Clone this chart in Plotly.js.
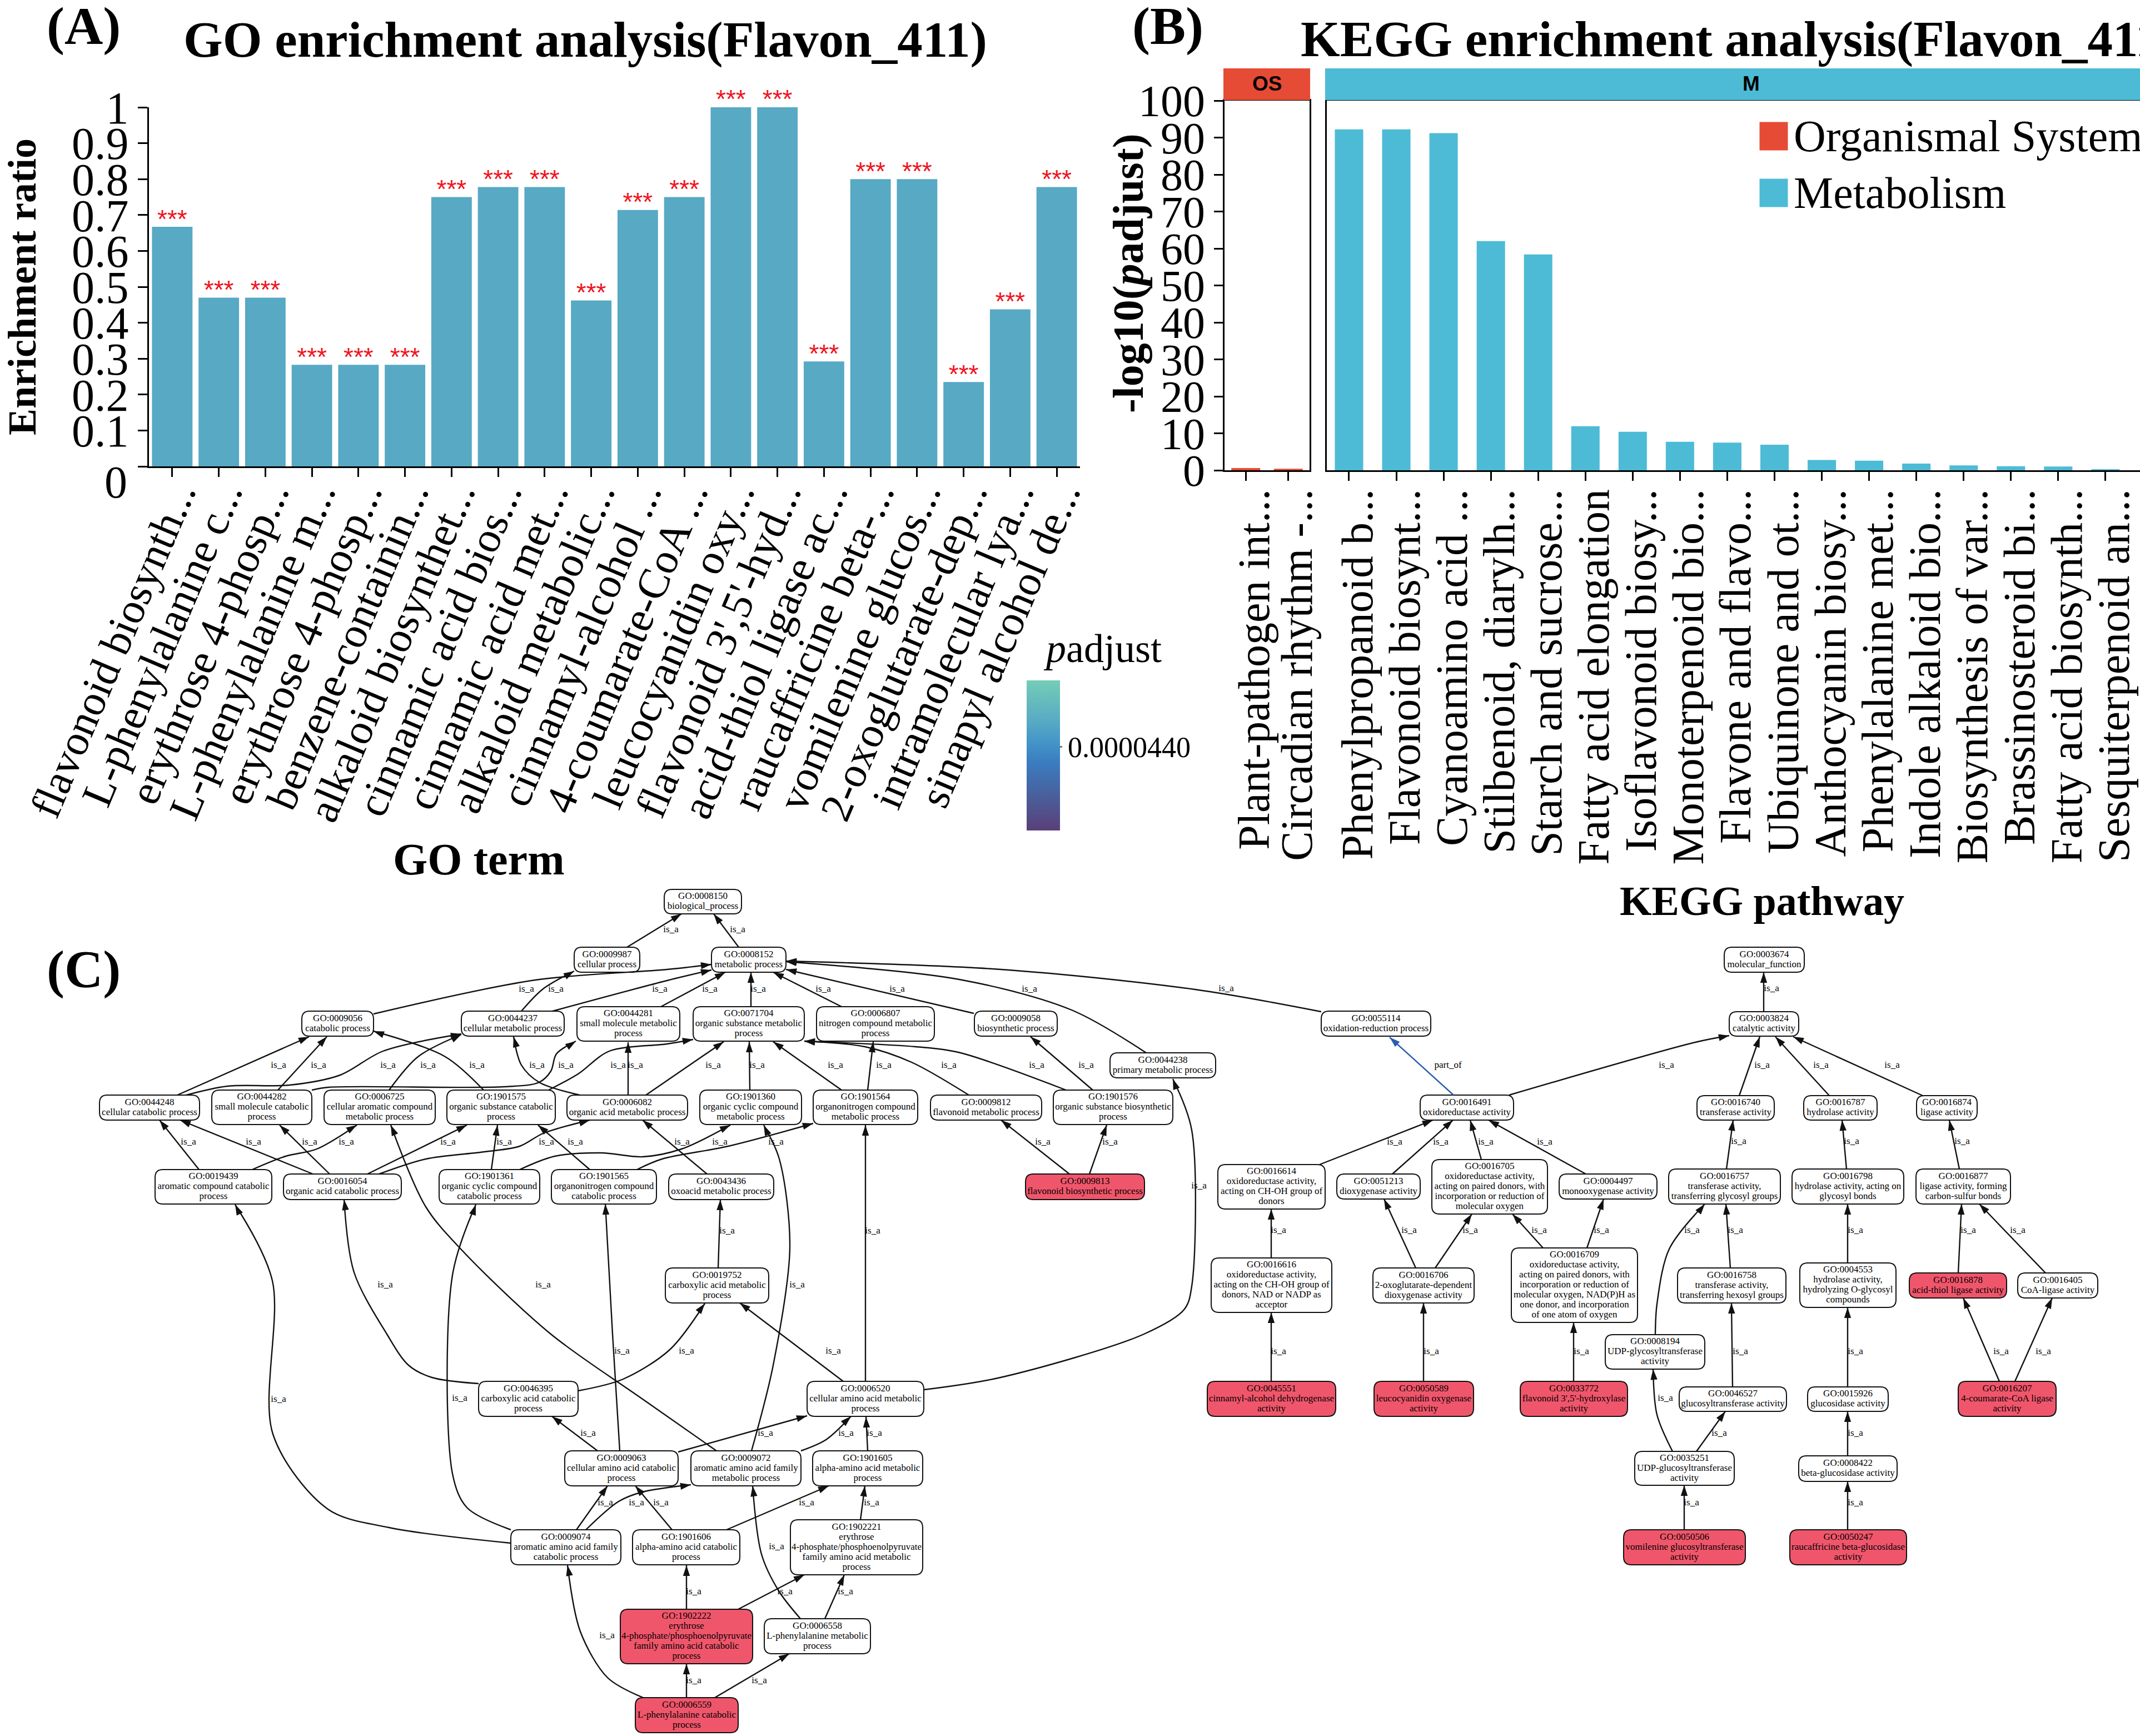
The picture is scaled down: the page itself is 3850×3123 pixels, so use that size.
<!DOCTYPE html>
<html>
<head>
<meta charset="utf-8">
<script src="https://cdn.plot.ly/plotly-3.0.1.min.js"></script>
<style>html,body{margin:0;padding:0;background:#fff}#chart{width:3850px;height:3123px}</style>
</head>
<body>
<div id="chart"></div>
<script>
// ---------- Panel A data ----------
const goTerms = ["flavonoid biosynth...","L-phenylalanine c...","erythrose 4-phosp...","L-phenylalanine m...","erythrose 4-phosp...","benzene-containin...","alkaloid biosynthet...","cinnamic acid bios...","cinnamic acid met...","alkaloid metabolic...","cinnamyl-alcohol ...","4-coumarate-CoA ...","leucocyanidin oxy...","flavonoid 3',5'-hyd...","acid-thiol ligase ac...","raucaffricine beta-...","vomilenine glucos...","2-oxoglutarate-dep...","intramolecular lya...","sinapyl alcohol de..."];
const goRatio = [0.667,0.47,0.47,0.283,0.283,0.283,0.75,0.778,0.778,0.462,0.714,0.75,1,1,0.292,0.8,0.8,0.235,0.4375,0.778];
const goPadjust = [5.7e-5,5.7e-5,5.7e-5,5.7e-5,5.7e-5,5.7e-5,5.7e-5,5.7e-5,5.7e-5,5.7e-5,5.7e-5,5.7e-5,5.7e-5,5.7e-5,5.7e-5,5.7e-5,5.7e-5,5.7e-5,5.7e-5,5.7e-5];
const goStars = ["***","***","***","***","***","***","***","***","***","***","***","***","***","***","***","***","***","***","***","***"];
const goYTicks = [0,0.1,0.2,0.3,0.4,0.5,0.6,0.7,0.8,0.9,1];
const goYTickText = ["","0.1","0.2","0.3","0.4","0.5","0.6","0.7","0.8","0.9","1"];

// ---------- Panel B data ----------
const osTerms = ["Plant-pathogen int...","Circadian rhythm -..."];
const osValues = [0.6,0.4];
const metTerms = ["Phenylpropanoid b...","Flavonoid biosynt...","Cyanoamino acid ...","Stilbenoid, diarylh...","Starch and sucrose...","Fatty acid elongation","Isoflavonoid biosy...","Monoterpenoid bio...","Flavone and flavo...","Ubiquinone and ot...","Anthocyanin biosy...","Phenylalanine met...","Indole alkaloid bio...","Biosynthesis of var...","Brassinosteroid bi...","Fatty acid biosynth...","Sesquiterpenoid an..."];
const metValues = [92.2,92.2,91.2,62,58.4,11.9,10.4,7.7,7.5,6.9,2.8,2.6,1.8,1.3,1.1,1.0,0.3];
const keggYTicks = [0,10,20,30,40,50,60,70,80,90,100];

// ---------- Panel C data: [id, text lines, left, right, top, bottom, highlighted] ----------
const graphNodes = [
["GO:0008150",["biological_process"],1195,1334,1600,1644,0],
["GO:0009987",["cellular process"],1033,1151,1704,1749,0],
["GO:0008152",["metabolic process"],1280,1414,1704,1749,0],
["GO:0009056",["catabolic process"],543,672,1819,1864,0],
["GO:0044237",["cellular metabolic process"],830,1015,1819,1864,0],
["GO:0044281",["small molecule metabolic","process"],1038,1223,1811,1873,0],
["GO:0071704",["organic substance metabolic","process"],1247,1447,1811,1873,0],
["GO:0006807",["nitrogen compound metabolic","process"],1469,1681,1811,1873,0],
["GO:0009058",["biosynthetic process"],1753,1902,1819,1864,0],
["GO:0044238",["primary metabolic process"],1997,2187,1894,1939,0],
["GO:0044248",["cellular catabolic process"],179,359,1970,2015,0],
["GO:0044282",["small molecule catabolic","process"],381,561,1961,2023,0],
["GO:0006725",["cellular aromatic compound","metabolic process"],583,783,1961,2023,0],
["GO:1901575",["organic substance catabolic","process"],804,999,1961,2023,0],
["GO:0006082",["organic acid metabolic process"],1020,1237,1970,2015,0],
["GO:1901360",["organic cyclic compound","metabolic process"],1259,1442,1961,2023,0],
["GO:1901564",["organonitrogen compound","metabolic process"],1463,1651,1961,2023,0],
["GO:0009812",["flavonoid metabolic process"],1674,1874,1970,2015,0],
["GO:1901576",["organic substance biosynthetic","process"],1895,2110,1961,2023,0],
["GO:0019439",["aromatic compound catabolic","process"],279,489,2104,2166,0],
["GO:0016054",["organic acid catabolic process"],510,722,2112,2158,0],
["GO:1901361",["organic cyclic compound","catabolic process"],790,971,2104,2166,0],
["GO:1901565",["organonitrogen compound","catabolic process"],992,1181,2104,2166,0],
["GO:0043436",["oxoacid metabolic process"],1203,1392,2112,2158,0],
["GO:0009813",["flavonoid biosynthetic process"],1845,2059,2112,2158,1],
["GO:0019752",["carboxylic acid metabolic","process"],1197,1383,2281,2344,0],
["GO:0046395",["carboxylic acid catabolic","process"],861,1040,2485,2548,0],
["GO:0006520",["cellular amino acid metabolic","process"],1452,1662,2485,2548,0],
["GO:0009063",["cellular amino acid catabolic","process"],1016,1220,2610,2673,0],
["GO:0009072",["aromatic amino acid family","metabolic process"],1243,1441,2610,2673,0],
["GO:1901605",["alpha-amino acid metabolic","process"],1462,1660,2610,2673,0],
["GO:0009074",["aromatic amino acid family","catabolic process"],919,1117,2752,2815,0],
["GO:1901606",["alpha-amino acid catabolic","process"],1138,1331,2752,2815,0],
["GO:1902221",["erythrose","4-phosphate/phosphoenolpyruvate","family amino acid metabolic","process"],1422,1660,2734,2833,0],
["GO:1902222",["erythrose","4-phosphate/phosphoenolpyruvate","family amino acid catabolic","process"],1116,1354,2895,2993,1],
["GO:0006558",["L-phenylalanine metabolic","process"],1375,1566,2912,2975,0],
["GO:0006559",["L-phenylalanine catabolic","process"],1143,1328,3054,3117,1],
["GO:0055114",["oxidation-reduction process"],2377,2574,1819,1864,0],
["GO:0016491",["oxidoreductase activity"],2555,2723,1970,2015,0],
["GO:0016614",["oxidoreductase activity,","acting on CH-OH group of","donors"],2191,2384,2095,2175,0],
["GO:0051213",["dioxygenase activity"],2405,2555,2112,2157,0],
["GO:0016705",["oxidoreductase activity,","acting on paired donors, with","incorporation or reduction of","molecular oxygen"],2576,2784,2086,2184,0],
["GO:0004497",["monooxygenase activity"],2805,2981,2112,2157,0],
["GO:0016616",["oxidoreductase activity,","acting on the CH-OH group of","donors, NAD or NADP as","acceptor"],2179,2396,2263,2361,0],
["GO:0016706",["2-oxoglutarate-dependent","dioxygenase activity"],2470,2652,2281,2344,0],
["GO:0016709",["oxidoreductase activity,","acting on paired donors, with","incorporation or reduction of","molecular oxygen, NAD(P)H as","one donor, and incorporation","of one atom of oxygen"],2719,2946,2245,2379,0],
["GO:0045551",["cinnamyl-alcohol dehydrogenase","activity"],2172,2403,2485,2548,1],
["GO:0050589",["leucocyanidin oxygenase","activity"],2472,2651,2485,2548,1],
["GO:0033772",["flavonoid 3',5'-hydroxylase","activity"],2735,2928,2485,2548,1],
["GO:0003674",["molecular_function"],3102,3246,1704,1749,0],
["GO:0003824",["catalytic activity"],3111,3236,1820,1864,0],
["GO:0016740",["transferase activity"],3053,3192,1971,2015,0],
["GO:0016787",["hydrolase activity"],3245,3377,1971,2015,0],
["GO:0016874",["ligase activity"],3448,3557,1971,2015,0],
["GO:0016757",["transferase activity,","transferring glycosyl groups"],3002,3203,2103,2166,0],
["GO:0016798",["hydrolase activity, acting on","glycosyl bonds"],3224,3425,2103,2166,0],
["GO:0016877",["ligase activity, forming","carbon-sulfur bonds"],3447,3617,2103,2166,0],
["GO:0016758",["transferase activity,","transferring hexosyl groups"],3018,3213,2281,2344,0],
["GO:0004553",["hydrolase activity,","hydrolyzing O-glycosyl","compounds"],3238,3411,2272,2352,0],
["GO:0016878",["acid-thiol ligase activity"],3435,3610,2290,2335,1],
["GO:0016405",["CoA-ligase activity"],3630,3774,2290,2335,0],
["GO:0008194",["UDP-glycosyltransferase","activity"],2888,3067,2401,2463,0],
["GO:0046527",["glucosyltransferase activity"],3021,3214,2495,2539,0],
["GO:0015926",["glucosidase activity"],3252,3397,2495,2539,0],
["GO:0016207",["4-coumarate-CoA ligase","activity"],3523,3699,2485,2548,1],
["GO:0035251",["UDP-glucosyltransferase","activity"],2941,3120,2611,2672,0],
["GO:0008422",["beta-glucosidase activity"],3236,3413,2619,2665,0],
["GO:0050506",["vomilenine glucosyltransferase","activity"],2921,3140,2752,2815,1],
["GO:0050247",["raucaffricine beta-glucosidase","activity"],3220,3430,2752,2815,1]
];

// [relation, label x, label y, path from child to parent]
const graphEdges = [
["is_a",1207,1673,[[1128,1704],[1226,1644]]],
["is_a",1327,1673,[[1329,1704],[1284,1644]]],
["is_a",947,1780,[[672,1824],[963,1763],[1200,1744],[1280,1735]]],
["is_a",1000,1780,[[938,1819],[977,1779],[1033,1747]]],
["is_a",1187,1780,[[994,1819],[1200,1764],[1280,1745]]],
["is_a",1277,1780,[[1189,1811],[1305,1749]]],
["is_a",1364,1780,[[1351,1811],[1351,1749]]],
["is_a",1481,1780,[[1514,1811],[1391,1749]]],
["is_a",1614,1780,[[1752,1823],[1414,1744]]],
["is_a",1852,1780,[[2062,1894],[1928,1817],[1731,1763],[1414,1730]]],
["is_a",2206,1779,[[2377,1820],[2150,1780],[1801,1744],[1414,1729]]],
["is_a",501,1917,[[319,1970],[556,1865]]],
["is_a",573,1917,[[500,1961],[588,1865]]],
["is_a",698,1917,[[335,1970],[409,1954],[521,1952],[612,1934],[689,1891],[830,1860]]],
["is_a",770,1917,[[700,1961],[752,1901],[830,1861]]],
["is_a",858,1917,[[870,1961],[801,1901],[672,1855]]],
["is_a",966,1917,[[1043,1970],[970,1947],[938,1916],[924,1865]]],
["is_a",1018,1917,[[561,1961],[591,1956],[907,1955],[970,1947],[991,1927],[1001,1896],[1036,1873]]],
["is_a",1143,1917,[[1130,1970],[1130,1875]]],
["is_a",1112,1917,[[987,1961],[1040,1932],[1096,1891],[1200,1878],[1247,1870]]],
["is_a",1283,1917,[[1162,1970],[1302,1874]]],
["is_a",1362,1917,[[1349,1961],[1348,1874]]],
["is_a",1503,1917,[[1514,1961],[1391,1874]]],
["is_a",1590,1917,[[1561,1961],[1571,1874]]],
["is_a",1707,1917,[[1743,1970],[1640,1911],[1556,1883],[1447,1873]]],
["is_a",1865,1917,[[1918,1961],[1724,1893],[1647,1883],[1447,1873]]],
["is_a",1954,1917,[[1966,1961],[1854,1865]]],
["is_a",1876,2055,[[1924,2112],[1801,2015]]],
["is_a",1997,2055,[[1960,2112],[1991,2024]]],
["is_a",2157,2134,[[1662,2500],[1800,2478],[2058,2400],[2131,2355],[2144,2314],[2144,2033],[2110,1941]]],
["is_a",339,2055,[[358,2104],[287,2015]]],
["is_a",456,2055,[[563,2112],[324,2015]]],
["is_a",557,2055,[[593,2112],[503,2024]]],
["is_a",623,2055,[[454,2104],[514,2080],[570,2067],[642,2024]]],
["is_a",806,2055,[[661,2112],[840,2024]]],
["is_a",907,2055,[[884,2104],[895,2024]]],
["is_a",1035,2055,[[1061,2104],[968,2024]]],
["is_a",983,2055,[[682,2112],[766,2085],[872,2072],[935,2062],[977,2039],[1061,2015]]],
["is_a",1295,2055,[[935,2104],[998,2080],[1082,2074],[1156,2081],[1226,2067],[1314,2024]]],
["is_a",1396,2055,[[1146,2104],[1191,2085],[1310,2062],[1463,2021]]],
["is_a",1227,2055,[[1272,2112],[1156,2015]]],
["is_a",1308,2215,[[1292,2281],[1296,2158]]],
["is_a",1570,2215,[[1557,2485],[1557,2250],[1557,2024]]],
["is_a",1434,2312,[[1352,2610],[1391,2456],[1421,2243],[1402,2085],[1374,2024]]],
["is_a",1119,2431,[[1115,2610],[1102,2400],[1089,2166]]],
["is_a",827,2516,[[919,2752],[840,2712],[814,2651],[814,2294],[856,2167]]],
["is_a",977,2312,[[1289,2610],[1149,2512],[991,2400],[830,2248],[766,2171],[703,2024]]],
["is_a",501,2518,[[919,2776],[700,2748],[590,2715],[491,2580],[490,2304],[423,2167]]],
["is_a",693,2312,[[861,2489],[777,2478],[735,2456],[696,2400],[637,2289],[619,2158]]],
["is_a",1235,2431,[[1040,2502],[1121,2481],[1205,2428],[1268,2345]]],
["is_a",1499,2431,[[1517,2485],[1331,2344]]],
["is_a",1058,2579,[[1075,2610],[993,2548]]],
["is_a",1377,2579,[[1220,2612],[1452,2547]]],
["is_a",1522,2579,[[1441,2610],[1486,2590],[1531,2548]]],
["is_a",1573,2579,[[1561,2610],[1558,2549]]],
["is_a",1089,2704,[[1037,2752],[1093,2673]]],
["is_a",1145,2704,[[1054,2752],[1113,2701],[1156,2684],[1243,2671]]],
["is_a",1189,2704,[[1209,2752],[1143,2673]]],
["is_a",1451,2704,[[1307,2752],[1491,2673]]],
["is_a",1568,2704,[[1548,2734],[1556,2673]]],
["is_a",1248,2864,[[1235,2895],[1235,2816]]],
["is_a",1412,2864,[[1328,2895],[1447,2833]]],
["is_a",1521,2864,[[1484,2912],[1519,2833]]],
["is_a",1397,2783,[[1440,2912],[1401,2862],[1370,2796],[1354,2673]]],
["is_a",1248,3024,[[1235,3054],[1235,2993]]],
["is_a",1366,3024,[[1286,3054],[1420,2975]]],
["is_a",1092,2943,[[1157,3054],[1093,3018],[1044,2935],[1021,2816]]],
["part_of",2605,1917,[[2615,1970],[2500,1866]]],
["is_a",2998,1917,[[2715,1970],[3050,1875],[3111,1863]]],
["is_a",2509,2055,[[2374,2095],[2578,2015]]],
["is_a",2592,2055,[[2505,2112],[2614,2015]]],
["is_a",2673,2055,[[2665,2086],[2645,2015]]],
["is_a",2779,2055,[[2853,2112],[2678,2015]]],
["is_a",2300,2214,[[2287,2263],[2287,2175]]],
["is_a",2535,2214,[[2547,2281],[2490,2157]]],
["is_a",2645,2214,[[2582,2281],[2648,2184]]],
["is_a",2769,2214,[[2776,2245],[2721,2184]]],
["is_a",2881,2214,[[2855,2245],[2885,2157]]],
["is_a",2300,2432,[[2287,2485],[2287,2361]]],
["is_a",2575,2432,[[2561,2485],[2561,2344]]],
["is_a",2845,2432,[[2831,2485],[2831,2379]]],
["is_a",3187,1779,[[3173,1820],[3173,1749]]],
["is_a",3170,1917,[[3129,1971],[3166,1865]]],
["is_a",3276,1917,[[3291,1971],[3194,1865]]],
["is_a",3404,1917,[[3459,1971],[3226,1865]]],
["is_a",3128,2054,[[3106,2103],[3118,2015]]],
["is_a",3331,2054,[[3322,2103],[3314,2015]]],
["is_a",3530,2054,[[3525,2103],[3507,2015]]],
["is_a",3122,2214,[[3113,2281],[3105,2166]]],
["is_a",3044,2214,[[2978,2401],[2981,2346],[3003,2247],[3067,2166]]],
["is_a",3338,2214,[[3324,2272],[3324,2166]]],
["is_a",3541,2214,[[3523,2290],[3529,2166]]],
["is_a",3630,2214,[[3680,2290],[3561,2166]]],
["is_a",3131,2432,[[3117,2495],[3115,2344]]],
["is_a",3338,2432,[[3324,2495],[3324,2352]]],
["is_a",3600,2432,[[3597,2485],[3532,2335]]],
["is_a",3676,2432,[[3625,2485],[3692,2335]]],
["is_a",2996,2516,[[3009,2611],[2981,2545],[2974,2463]]],
["is_a",3093,2579,[[3052,2611],[3104,2539]]],
["is_a",3338,2579,[[3324,2619],[3324,2539]]],
["is_a",3043,2704,[[3030,2752],[3030,2672]]],
["is_a",3338,2704,[[3324,2752],[3324,2665]]]
];

// ---------- helpers / layout ----------
const W = 3850, H = 3123;
const SERIF = "Liberation Serif";
const INK = "#000";
const domX = (a,b)=>[a/W,b/W];
const domY = (top,bottom)=>[1-bottom/H,1-top/H];
const idx = a=>a.map((_,i)=>i);
const barBlue = "#4DBBD5", barRed = "#E64B35", hitRed = "#F0566B";
const padjustScale = [[0,"#5A3F78"],[0.22,"#4A5E9A"],[0.45,"#3A7CC0"],[0.6,"#4597C8"],[0.72,"#57A9C4"],[1,"#74CDB6"]];

const traces = [];
// Panel A
traces.push({type:"bar",name:"GO term",x:idx(goTerms),y:goRatio,width:0.87,xaxis:"x",yaxis:"y",
  marker:{color:goPadjust,colorscale:padjustScale,cmin:0,cmax:7.885e-5,line:{width:0},
    colorbar:{x:1847/W,xanchor:"left",xpad:0,ypad:0,y:1-1494/H,yanchor:"bottom",lenmode:"fraction",len:270/H,
      thicknessmode:"pixels",thickness:60,outlinewidth:0,borderwidth:0,ticks:"outside",ticklen:4,tickwidth:3,tickcolor:"#777",
      tickmode:"array",tickvals:[4.4e-5],ticktext:["0.0000440"],tickfont:{family:SERIF,size:52,color:INK}}},
  showlegend:false,hoverinfo:"skip"});
// significance stars sit just above each bar
traces.push({type:"scatter",mode:"text",x:idx(goTerms),y:goRatio.map(v=>v-0.02),text:goStars,xaxis:"x",yaxis:"y",textposition:"top center",cliponaxis:false,
  textfont:{family:"Liberation Sans",size:46,color:"#F0141E"},showlegend:false,hoverinfo:"skip"});
// Panel B
traces.push({type:"bar",name:"Organismal Systems",x:idx(osTerms),y:osValues,width:0.68,xaxis:"x2",yaxis:"y2",marker:{color:barRed},showlegend:false,hoverinfo:"skip"});
traces.push({type:"bar",name:"Metabolism",x:idx(metTerms),y:metValues,width:0.6,xaxis:"x3",yaxis:"y3",marker:{color:barBlue},showlegend:false,hoverinfo:"skip"});
// Legend swatches on canvas axes
const legendNames = ["Organismal Systems","Metabolism"];
const legendColors = [barRed,barBlue];
const legendX = [3191,3191], legendY = [245,347];
traces.push({type:"scatter",mode:"markers",x:legendX,y:legendY,xaxis:"x4",yaxis:"y4",marker:{symbol:"square",size:51,color:legendColors,line:{width:0}},showlegend:false,hoverinfo:"skip"});

// Panel C edges
function edgeTrace(rel,color){
  const xs=[],ys=[],ax=[],ay=[],ang=[];
  graphEdges.filter(e=>e[0]===rel).forEach(e=>{
    const p=e[3];
    p.forEach(q=>{xs.push(q[0]);ys.push(q[1]);});
    xs.push(null);ys.push(null);
    const a=p[p.length-2],b=p[p.length-1];
    ax.push(b[0]);ay.push(b[1]);
    ang.push(Math.atan2(b[0]-a[0],a[1]-b[1])*180/Math.PI);
  });
  traces.push({type:"scatter",mode:"lines",x:xs,y:ys,xaxis:"x4",yaxis:"y4",line:{color:color,width:2.4,shape:"spline",smoothing:0.9},connectgaps:false,showlegend:false,hoverinfo:"skip"});
  traces.push({type:"scatter",mode:"markers",x:ax,y:ay,xaxis:"x4",yaxis:"y4",marker:{symbol:"arrow",size:20,angle:ang,color:color,line:{width:0}},showlegend:false,hoverinfo:"skip"});
}
edgeTrace("is_a","#111");
edgeTrace("part_of","#2A5CB0");
// Edge labels
traces.push({type:"scatter",mode:"text",x:graphEdges.map(e=>e[1]),y:graphEdges.map(e=>e[2]),text:graphEdges.map(e=>e[0]),xaxis:"x4",yaxis:"y4",textposition:"middle center",textfont:{family:SERIF,size:17,color:INK},showlegend:false,hoverinfo:"skip",cliponaxis:false});
// Node text: one point per line
const LINE = 18;
const tx=[],ty=[],tt=[];
graphNodes.forEach(n=>{
  const lines=[n[0]].concat(n[1]);
  const cx=(n[2]+n[3])/2, cy=(n[4]+n[5])/2;
  lines.forEach((s,i)=>{tx.push(cx);ty.push(cy+(i-(lines.length-1)/2)*LINE);tt.push(s);});
});
traces.push({type:"scatter",mode:"text",x:tx,y:ty,text:tt,xaxis:"x4",yaxis:"y4",textposition:"middle center",textfont:{family:SERIF,size:17,color:INK},showlegend:false,hoverinfo:"skip",cliponaxis:false});

// Node boxes as shapes on the canvas axes
function roundRect(l,r,t,b,c){
  return `M${l+c},${t}H${r-c}Q${r},${t} ${r},${t+c}V${b-c}Q${r},${b} ${r-c},${b}H${l+c}Q${l},${b} ${l},${b-c}V${t+c}Q${l},${t} ${l+c},${t}Z`;
}
const shapes = graphNodes.map(n=>({type:"path",xref:"x4",yref:"y4",layer:"below",path:roundRect(n[2],n[3],n[4],n[5],14),
  fillcolor:n[6]?hitRed:"#fff",line:{color:"#111",width:2}}));
// Facet strips
shapes.push({type:"rect",xref:"x4",yref:"y4",layer:"below",x0:2201,x1:2357,y0:123,y1:180,fillcolor:barRed,line:{width:0}});
shapes.push({type:"rect",xref:"x4",yref:"y4",layer:"below",x0:2384,x1:3850,y0:123,y1:180,fillcolor:barBlue,line:{width:0}});

function note(text,x,y,size,opts){
  return Object.assign({text:text,x:x,y:y,xref:"x4",yref:"y4",showarrow:false,xanchor:"center",yanchor:"middle",
    font:{family:SERIF,size:size,color:INK}},opts||{});
}
const annotations = [
  note("<b>(A)</b>",150,46,96),
  note("<b>(B)</b>",2101,46,96),
  note("<b>(C)</b>",150,1743,96),
  note("<b>GO enrichment analysis(Flavon_411)</b>",1053,71,91),
  note("<b>KEGG enrichment analysis(Flavon_411)</b>",2338,70,91,{xanchor:"left"}),
  note("<b>GO term</b>",861,1546,80),
  note("<b>KEGG pathway</b>",3170,1621,74),
  note("<b>-log10(<i>p</i>adjust)</b>",2029,492,78,{textangle:-90}),
  note("<i>p</i>adjust",1875,1167,72,{xanchor:"left"}),
  note("0",208,867,82),
  note("<b>OS</b>",2279,150,37,{font:{family:"Liberation Sans",size:37,color:INK}}),
  note("<b>M</b>",3150,150,37,{font:{family:"Liberation Sans",size:37,color:INK}}),
  note(legendNames[0],3225,245,80,{xanchor:"left"}),
  note(legendNames[1],3225,347,80,{xanchor:"left"})
];

const tickFontA = {family:SERIF,size:82,color:INK};
const base = {showgrid:false,zeroline:false,showline:true,linecolor:INK,linewidth:3,ticks:"outside",tickcolor:INK,tickwidth:3,ticklen:16,fixedrange:true,automargin:false};

const layout = {
  width:W,height:H,margin:{l:0,r:0,t:0,b:0,pad:0,autoexpand:false},
  paper_bgcolor:"#fff",plot_bgcolor:"rgba(0,0,0,0)",showlegend:false,
  shapes:shapes,annotations:annotations,
  xaxis:Object.assign({},base,{domain:domX(268,1943),anchor:"y",range:[-0.5,19.5],tickmode:"array",tickvals:idx(goTerms),ticktext:goTerms,tickangle:-67,ticklabelstandoff:-46,ticklabelshift:8,tickfont:{family:SERIF,size:78,color:INK}}),
  yaxis:Object.assign({},base,{domain:domY(193,839),anchor:"x",range:[0,1],tickmode:"array",tickvals:goYTicks,ticktext:goYTickText,ticklen:17,tickfont:tickFontA,
    title:{text:"<b>Enrichment ratio</b>",font:{family:SERIF,size:72,color:INK},standoff:65}}),
  xaxis2:Object.assign({},base,{domain:domX(2203,2356),anchor:"y2",range:[-0.5,1.5],mirror:true,tickmode:"array",tickvals:idx(osTerms),ticktext:osTerms,tickangle:-90,ticklabelstandoff:-17,ticklabelshift:16,tickfont:{family:SERIF,size:80,color:INK}}),
  yaxis2:Object.assign({},base,{domain:domY(181,846),anchor:"x2",range:[0,100],mirror:true,tickmode:"array",tickvals:keggYTicks,tickfont:{family:SERIF,size:80,color:INK}}),
  xaxis3:Object.assign({},base,{domain:domX(2387,3850),anchor:"y3",range:[-0.47,16.73],mirror:true,tickmode:"array",tickvals:idx(metTerms),ticktext:metTerms,tickangle:-90,ticklabelstandoff:-17,ticklabelshift:16,tickfont:{family:SERIF,size:80,color:INK}}),
  yaxis3:Object.assign({},base,{domain:domY(181,846),anchor:"x3",range:[0,100],ticks:"",showticklabels:false}),
  xaxis4:{domain:[0,1],anchor:"y4",range:[0,W],visible:false,fixedrange:true},
  yaxis4:{domain:[0,1],anchor:"x4",range:[H,0],visible:false,fixedrange:true}
};
Plotly.newPlot("chart",traces,layout,{staticPlot:true,displayModeBar:false,responsive:false});
</script>
</body>
</html>
